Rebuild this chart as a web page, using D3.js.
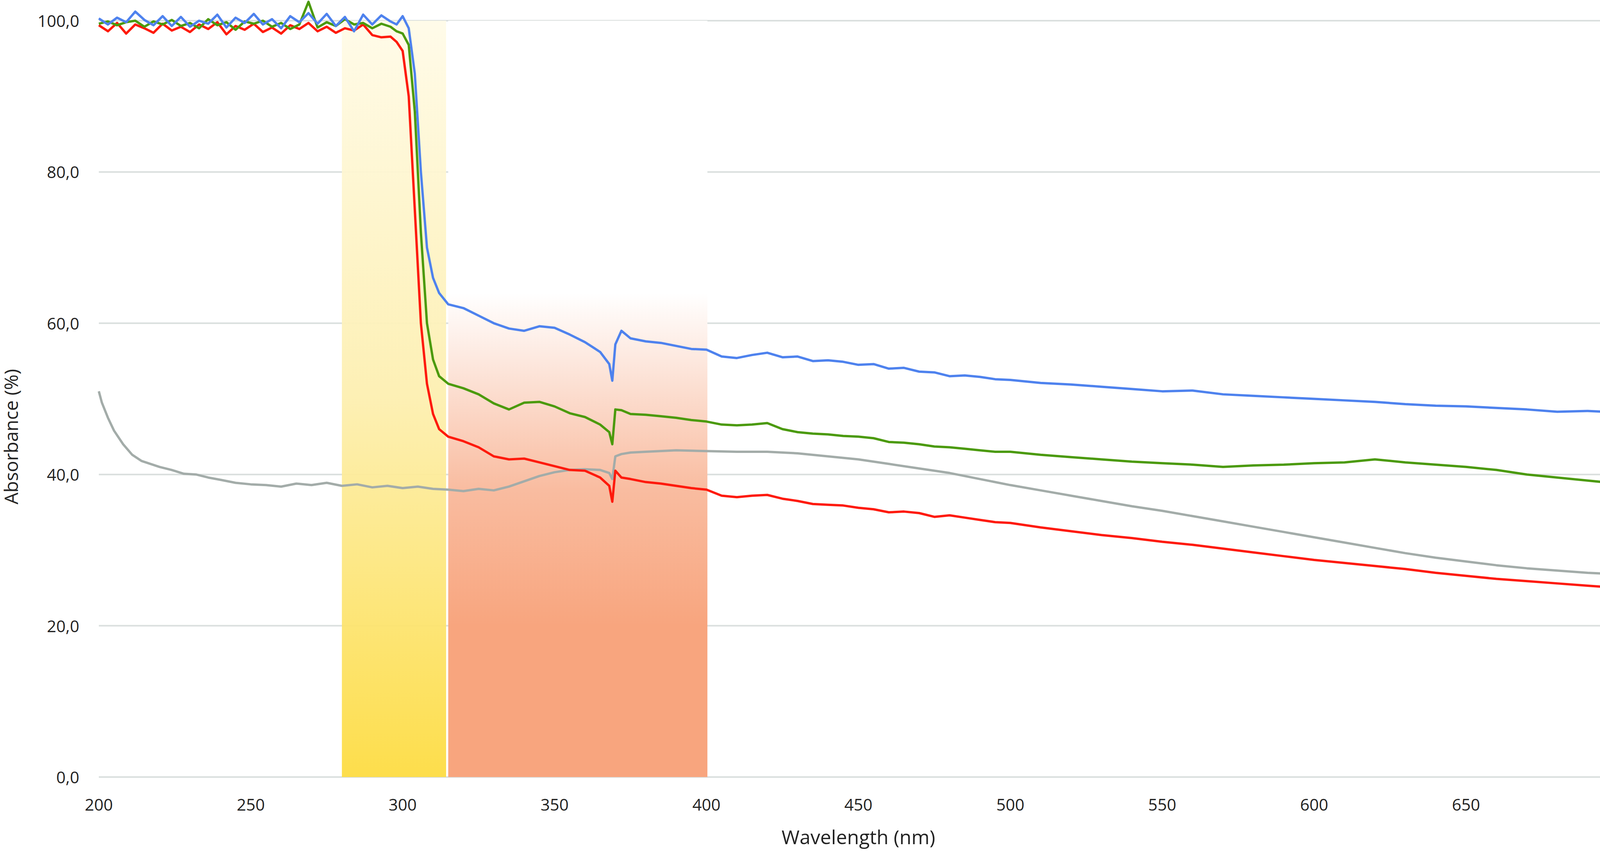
<!DOCTYPE html>
<html><head><meta charset="utf-8">
<script src="https://cdn.jsdelivr.net/npm/d3@7"></script>
<style>body{margin:0;background:#fff}</style></head>
<body><svg id="c" width="4183" height="2182"></svg>
<script>
const xTicks=[200,250,300,350,400,450,500,550,600,650,700];
const yTicks=[0,20,40,60,80,100];
const plateauX=[200,203,206,209,212,215,218,221,224,227,230,233,236,239,242,245,248,251,254,257,260,263,266,269,272,275,278,281,284,287,290,293,296];
const blueP=[100.3,99.5,100.4,99.8,101.2,100.1,99.4,100.6,99.3,100.5,99.2,100.0,99.6,100.8,99.1,100.4,99.7,100.9,99.5,100.2,99.0,100.6,99.8,101.0,99.6,100.9,99.3,100.5,98.6,100.8,99.5,100.7,99.9];
const greenP=[99.6,99.9,99.4,99.8,100.0,99.2,99.9,99.5,100.1,99.3,99.7,99.0,100.2,99.4,99.8,98.8,99.9,99.6,100.0,99.2,99.7,98.9,99.5,102.5,99.1,99.8,99.3,100.2,99.5,99.7,99.0,99.6,99.2];
const redP=[99.4,98.6,99.7,98.3,99.5,99.0,98.4,99.6,98.7,99.2,98.5,99.5,98.9,99.8,98.2,99.3,98.8,99.6,98.5,99.1,98.3,99.4,98.9,99.7,98.6,99.2,98.4,99.0,98.7,99.5,98.1,97.8,97.9];
const edgeX=[298,300,302,304,306,308,310,312,315,320,325,330,335,340,345,350,355,360,365,368,369,370,372,375,380,385,390,395,400,405,410,415,420,425,430,435,440,445,450,455,460,465,470,475,480,485,490,495,500,510,520,530,540,550,560,570,580,590,600,610,620,630,640,650,660,670,680,690,700];
const blueE=[99.5,100.6,99.0,93,80,70,66,64,62.5,62,61,60,59.3,59,59.6,59.4,58.5,57.5,56.2,54.6,52.4,57.2,59,58,57.6,57.4,57,56.6,56.5,55.6,55.4,55.8,56.1,55.5,55.6,55.0,55.1,54.9,54.5,54.6,54.0,54.1,53.6,53.5,53.0,53.1,52.9,52.6,52.5,52.1,51.9,51.6,51.3,51.0,51.1,50.6,50.4,50.2,50.0,49.8,49.6,49.3,49.1,49.0,48.8,48.6,48.3,48.4,48.2];
const greenE=[98.6,98.3,96.8,88,72,60,55.2,53,52,51.4,50.6,49.4,48.6,49.5,49.6,49.0,48.1,47.6,46.6,45.6,44.0,48.6,48.5,48.0,47.9,47.7,47.5,47.2,47.0,46.6,46.5,46.6,46.8,46.0,45.6,45.4,45.3,45.1,45.0,44.8,44.3,44.2,44.0,43.7,43.6,43.4,43.2,43.0,43.0,42.6,42.3,42.0,41.7,41.5,41.3,41.0,41.2,41.3,41.5,41.6,42.0,41.6,41.3,41.0,40.6,40.0,39.6,39.2,38.8];
const redE=[97.2,96.0,90,75,60,52,48,46,45,44.4,43.6,42.4,42.0,42.1,41.6,41.1,40.6,40.5,39.6,38.5,36.4,40.5,39.6,39.4,39.0,38.8,38.5,38.2,38.0,37.2,37.0,37.2,37.3,36.8,36.5,36.1,36.0,35.9,35.6,35.4,35.0,35.1,34.9,34.4,34.6,34.3,34.0,33.7,33.6,33.0,32.5,32.0,31.6,31.1,30.7,30.2,29.7,29.2,28.7,28.3,27.9,27.5,27.0,26.6,26.2,25.9,25.6,25.3,25.0];
const grayX=[200,201,203,205,208,211,214,217,220,224,228,232,236,240,245,250,255,260,265,270,275,280,285,290,295,300,305,310,315,320,325,330,335,340,345,350,355,360,365,368,369,370,372,375,380,390,400,410,420,430,440,450,460,470,480,490,500,510,520,530,540,550,560,570,580,590,600,610,620,630,640,650,660,670,680,690,700];
const grayV=[51,49.5,47.5,45.8,44,42.6,41.8,41.4,41.0,40.6,40.1,40.0,39.6,39.3,38.9,38.7,38.6,38.4,38.8,38.6,38.9,38.5,38.7,38.3,38.5,38.2,38.4,38.1,38.0,37.8,38.1,37.9,38.4,39.1,39.8,40.3,40.6,40.7,40.6,40.2,39.4,42.4,42.7,42.9,43.0,43.2,43.1,43.0,43.0,42.8,42.4,42.0,41.4,40.8,40.2,39.4,38.6,37.9,37.2,36.5,35.8,35.2,34.5,33.8,33.1,32.4,31.7,31.0,30.3,29.6,29.0,28.5,28.0,27.6,27.3,27.0,26.8];

const svg=d3.select('#c');
const L=253,R=4142,T=53,B=1990;
const x=d3.scaleLinear().domain([200,700]).range([L,R]);
const y=d3.scaleLinear().domain([0,100]).range([B,T]);
const defs=svg.append('defs');
const gy=defs.append('linearGradient').attr('id','gy').attr('x1',0).attr('x2',0).attr('y1',0).attr('y2',1);
gy.append('stop').attr('offset',0).attr('stop-color','#fffbe8');
gy.append('stop').attr('offset',0.5).attr('stop-color','#fdefb0');
gy.append('stop').attr('offset',1).attr('stop-color','#fddc42');
const go=defs.append('linearGradient').attr('id','go').attr('x1',0).attr('x2',0).attr('y1',0).attr('y2',1);
go.append('stop').attr('offset',0).attr('stop-color','#ffffff');
go.append('stop').attr('offset',0.36).attr('stop-color','#ffffff');
go.append('stop').attr('offset',0.62).attr('stop-color','#f9bca0');
go.append('stop').attr('offset',0.8).attr('stop-color','#f8a57e');
go.append('stop').attr('offset',1).attr('stop-color','#f8a57e');
svg.append('g').selectAll('line').data(yTicks).join('line')
 .attr('x1',L).attr('x2',R).attr('y1',d=>y(d)).attr('y2',d=>y(d))
 .attr('stroke','#dadfde').attr('stroke-width',4);
svg.append('rect').attr('x',x(280)).attr('width',x(314.3)-x(280)).attr('y',y(100)).attr('height',y(0)-y(100)).attr('fill','url(#gy)').attr('opacity',0.95);
svg.append('rect').attr('x',x(315)).attr('width',x(400.3)-x(315)).attr('y',y(100)).attr('height',y(0)-y(100)).attr('fill','url(#go)');
svg.append('g').selectAll('text').data(yTicks).join('text')
 .attr('x',203).attr('y',d=>y(d)+16).attr('text-anchor','end')
 .attr('font-family','Open Sans, sans-serif').attr('font-size',42).attr('fill','#222')
 .text(d=>d.toFixed(1).replace('.',','));
svg.append('g').selectAll('text').data(xTicks).join('text')
 .attr('x',d=>x(d)).attr('y',2076).attr('text-anchor',d=>d===700?'end':'middle')
 .attr('dx',d=>d===700?34:0)
 .attr('font-family','Open Sans, sans-serif').attr('font-size',42).attr('fill','#222')
 .text(d=>d);
svg.append('text').attr('x',x(450)).attr('y',2162).attr('text-anchor','middle')
 .attr('font-family','Open Sans, sans-serif').attr('font-size',50).attr('fill','#222').text('Wavelength (nm)');
svg.append('text').attr('transform',`translate(46,${y(45)}) rotate(-90)`).attr('text-anchor','middle')
 .attr('font-family','Open Sans, sans-serif').attr('font-size',48).attr('fill','#222').text('Absorbance (%)');
const line=d3.line().x(d=>x(d[0])).y(d=>y(d[1]));
function series(xs,vs,c){svg.append('path').datum(xs.map((v,i)=>[v,vs[i]])).attr('d',line).attr('fill','none').attr('stroke',c).attr('stroke-width',6).attr('stroke-linejoin','round');}
series(grayX,grayV,'#a3aca9');
series(plateauX.concat(edgeX),redP.concat(redE),'#fe1a0c');
series(plateauX.concat(edgeX),greenP.concat(greenE),'#4b9a0c');
series(plateauX.concat(edgeX),blueP.concat(blueE),'#4e82ee');
</script></body></html>
